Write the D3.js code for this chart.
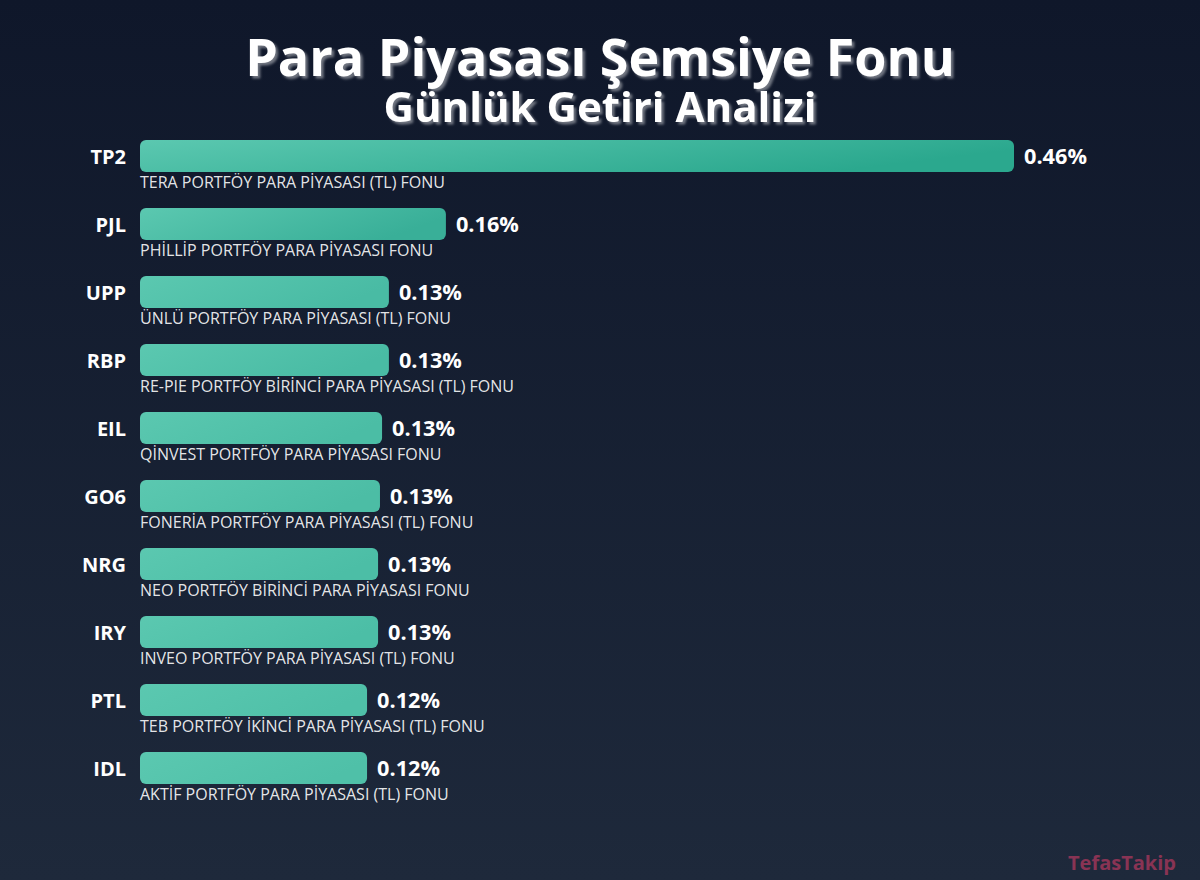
<!DOCTYPE html>
<html><head><meta charset="utf-8">
<script src="https://cdn.jsdelivr.net/npm/d3@7/dist/d3.min.js"></script>
<style>html,body{margin:0;padding:0;background:#0f172a}svg{display:block}text{font-family:"Open Sans",sans-serif}</style>
</head><body><div id="chart"></div>
<script>
const titleMain = "Para Piyasası Şemsiye Fonu";
const titleSub = "Günlük Getiri Analizi";
const codes = ["TP2","PJL","UPP","RBP","EIL","GO6","NRG","IRY","PTL","IDL"];
const names = ["TERA PORTFÖY PARA PİYASASI (TL) FONU","PHİLLİP PORTFÖY PARA PİYASASI FONU","ÜNLÜ PORTFÖY PARA PİYASASI (TL) FONU","RE-PIE PORTFÖY BİRİNCİ PARA PİYASASI (TL) FONU","QİNVEST PORTFÖY PARA PİYASASI FONU","FONERİA PORTFÖY PARA PİYASASI (TL) FONU","NEO PORTFÖY BİRİNCİ PARA PİYASASI FONU","INVEO PORTFÖY PARA PİYASASI (TL) FONU","TEB PORTFÖY İKİNCİ PARA PİYASASI (TL) FONU","AKTİF PORTFÖY PARA PİYASASI (TL) FONU"];
const values = [0.46,0.161,0.131,0.131,0.1274,0.1263,0.1253,0.1253,0.1195,0.1195];
const W=1200,H=880;
const svg=d3.select("#chart").append("svg").attr("width",W).attr("height",H);
const defs=svg.append("defs");
const bg=defs.append("linearGradient").attr("id","bg").attr("x1",0).attr("y1",0).attr("x2",0).attr("y2",1);
bg.append("stop").attr("offset","0%").attr("stop-color","#0f172a");
bg.append("stop").attr("offset","100%").attr("stop-color","#1e293b");
const x=d3.scaleLinear().domain([0,0.46]).range([140,1014]);
const y=d3.scaleBand().domain(codes).range([140,820]).paddingInner(0);
const barEnd=d3.scaleLinear().domain([0.12,0.16,0.46]).range(["#4fc0a8","#39af98","#2ba88e"]).clamp(true);
values.forEach((v,i)=>{
  const g=defs.append("linearGradient").attr("id","bar"+i).attr("x1",0).attr("y1",0).attr("x2",1).attr("y2",0.3);
  g.append("stop").attr("offset","0%").attr("stop-color","#5bc8b0");
  g.append("stop").attr("offset","100%").attr("stop-color",barEnd(v));
});
const shadow=defs.append("filter").attr("id","ts").attr("x","-5%").attr("y","-20%").attr("width","110%").attr("height","140%");
shadow.append("feDropShadow").attr("dx",2.5).attr("dy",2.5).attr("stdDeviation",0.8).attr("flood-color","#fff").attr("flood-opacity",0.4);
svg.append("rect").attr("width",W).attr("height",H).attr("fill","url(#bg)");
function title(t,cy,fs){
  svg.append("text").attr("x",W/2).attr("y",cy).attr("text-anchor","middle").attr("font-size",fs).attr("font-weight",700).attr("fill","#fff").attr("filter","url(#ts)").text(t);
}
title(titleMain,76,52);
title(titleSub,122,42);
const rows=svg.selectAll("g.row").data(codes).join("g").attr("class","row").attr("transform",d=>`translate(0,${y(d)})`);
rows.append("rect").attr("x",x(0)).attr("y",0).attr("height",32).attr("rx",6).attr("ry",6)
  .attr("width",(d,i)=>x(values[i])-x(0)).attr("fill",(d,i)=>`url(#bar${i})`);
rows.append("text").attr("x",126).attr("y",23.5).attr("text-anchor","end").attr("font-size",20).attr("font-weight",700).attr("fill","#fff").text(d=>d);
rows.append("text").attr("x",(d,i)=>x(values[i])+10).attr("y",23.5).attr("font-size",21.7).attr("font-weight",700).attr("fill","#fff").text((d,i)=>values[i].toFixed(2)+"%");
rows.append("text").attr("x",140).attr("y",48).attr("font-size",16).attr("fill","#fff").attr("fill-opacity",0.9).text((d,i)=>names[i]);
svg.append("text").attr("x",1176).attr("y",870).attr("text-anchor","end").attr("font-size",20).attr("font-weight",700).attr("fill","#f43f6e").attr("fill-opacity",0.5).text("TefasTakip");
</script></body></html>
